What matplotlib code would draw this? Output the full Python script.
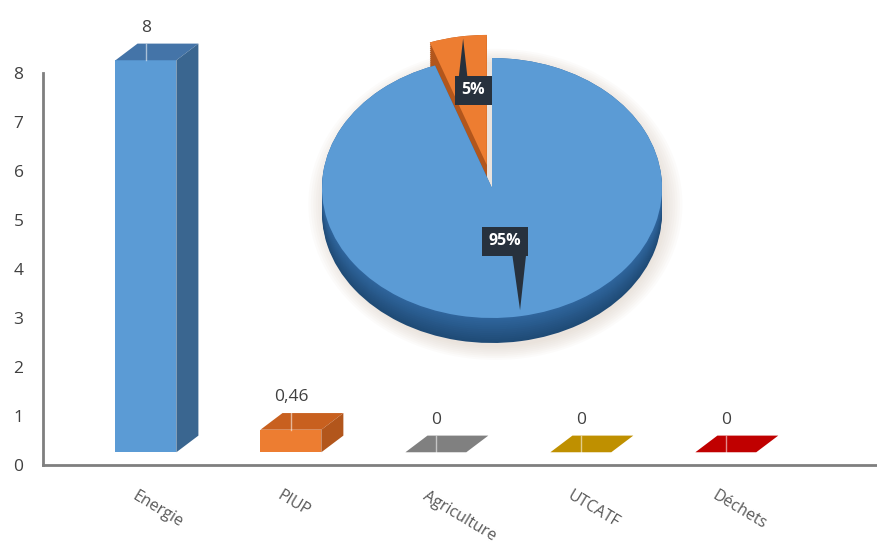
import matplotlib.pyplot as plt
import numpy as np
from matplotlib.patches import Polygon, Ellipse
from matplotlib.colors import to_rgb

categories = ['Energie', 'PIUP', 'Agriculture', 'UTCATF', 'Déchets']
values = [8, 0.46, 0, 0, 0]
value_labels = ['8', '0,46', '0', '0', '0']
y_ticks = [0, 1, 2, 3, 4, 5, 6, 7, 8]

# pie shows the two non-zero sectors
pie_values = values[:2]

front_colors = ['#5b9bd5', '#ed7d31', '#9a9a9a', '#d9a400', '#d00000']
top_colors = ['#4474a8', '#c8601f', '#808080', '#bf9000', '#c00000']
side_colors = ['#3a6690', '#b2561c', '#6b6b6b', '#a07800', '#a00000']

plt.rcParams['font.family'] = ['Open Sans', 'DejaVu Sans']

fig = plt.figure(figsize=(8.78, 5.52), dpi=100)

# --- 3D-looking bar chart ---
ax = fig.add_axes([43 / 878, 87 / 552, 835 / 878, 456 / 552])
ax.set_xlim(-0.71, 5.05)
ax.set_ylim(0, 456 / 49)

x = np.arange(len(categories))
w = 0.42
floor = 0.26
dx, dy = 0.152, 0.34

ax.bar(x, values, width=w, bottom=floor, color=front_colors, zorder=2)
for xi, v, lbl, tc, sc in zip(x, values, value_labels, top_colors, side_colors):
    x0, x1 = xi - w / 2, xi + w / 2
    top = floor + v
    ax.add_patch(Polygon([(x0, top), (x1, top), (x1 + dx, top + dy), (x0 + dx, top + dy)],
                         closed=True, facecolor=tc, edgecolor='none', zorder=3))
    if v > 0:
        ax.add_patch(Polygon([(x1, floor), (x1 + dx, floor + dy), (x1 + dx, top + dy), (x1, top)],
                             closed=True, facecolor=sc, edgecolor='none', zorder=3))
    # leader line across the top face
    ax.plot([xi, xi], [top, top + dy], color='white', alpha=0.55, lw=1, zorder=4)
    ax.annotate(lbl, xy=(xi, top + dy / 2), xytext=(0, 24), textcoords='offset pixels',
                ha='center', va='center', fontsize=12.5, color='#404040')

for xi, cat in zip(x, categories):
    ax.annotate(cat, xy=(xi, 0), xytext=(-12, -30), textcoords='offset pixels',
                rotation=-31, rotation_mode='anchor', ha='left', va='center',
                fontsize=11.5, color='#595959')

for s in ['top', 'right']:
    ax.spines[s].set_visible(False)
for s in ['left', 'bottom']:
    ax.spines[s].set_color('#7f7f7f')
    ax.spines[s].set_linewidth(2)
ax.spines['left'].set_bounds(0, 8)
ax.set_yticks(y_ticks)
ax.set_xticks([])
ax.tick_params(axis='y', length=0, pad=14, labelsize=12.5, labelcolor='#404040')
ax.patch.set_alpha(0)

# --- 3D-looking pie ---
pax = fig.add_axes([237 / 878, (552 - 383) / 552, 510 / 878, 377 / 552])
depth = 25 / 130
explode = [0, 0.18]

# soft shadow
for s in np.linspace(1.10, 1.0, 8):
    pax.add_patch(Ellipse((0.02, -depth / 2 - 0.03), 2 * s, 2 * s + depth,
                          facecolor='#c9b8a6', edgecolor='none', alpha=0.05))

side_top = np.array(to_rgb('#30669e'))
side_bot = np.array(to_rgb('#1f4b76'))
for t in np.linspace(0, 1, 14):
    c = side_bot * (1 - t) + side_top * t
    pax.pie(pie_values, colors=[c, '#b2561c'], startangle=90, counterclock=False,
            explode=explode, center=(0, -depth * (1 - t)),
            wedgeprops=dict(linewidth=0))

pax.pie(pie_values, colors=['#5b9bd5', '#ed7d31'], startangle=90, counterclock=False,
        explode=explode, wedgeprops=dict(linewidth=0))

total = sum(pie_values)
pct = [f'{v / total * 100:.0f}%' for v in pie_values]
box = dict(boxstyle='square,pad=0.4', facecolor='#27313d', edgecolor='none')

pax.add_patch(Polygon([(0.12, -0.52), (0.2, -0.52), (0.165, -0.94)],
                      closed=True, facecolor='#27313d', edgecolor='none', zorder=5))
pax.add_patch(Polygon([(-0.2, 0.8), (-0.14, 0.8), (-0.17, 1.15)],
                      closed=True, facecolor='#27313d', edgecolor='none', zorder=5))
pax.text(0.076, -0.41, pct[0], ha='center', va='center', fontsize=11.5, fontweight='bold',
         color='white', bbox=box, zorder=6)
pax.text(-0.11, 0.75, pct[1], ha='center', va='center', fontsize=11.5, fontweight='bold',
         color='white', bbox=box, zorder=6)

pax.set_xlim(-1.5, 1.5)
pax.set_ylim(-1.5, 1.4)
pax.set_aspect('auto')
pax.axis('off')

fig.savefig('out.png', dpi=100)
